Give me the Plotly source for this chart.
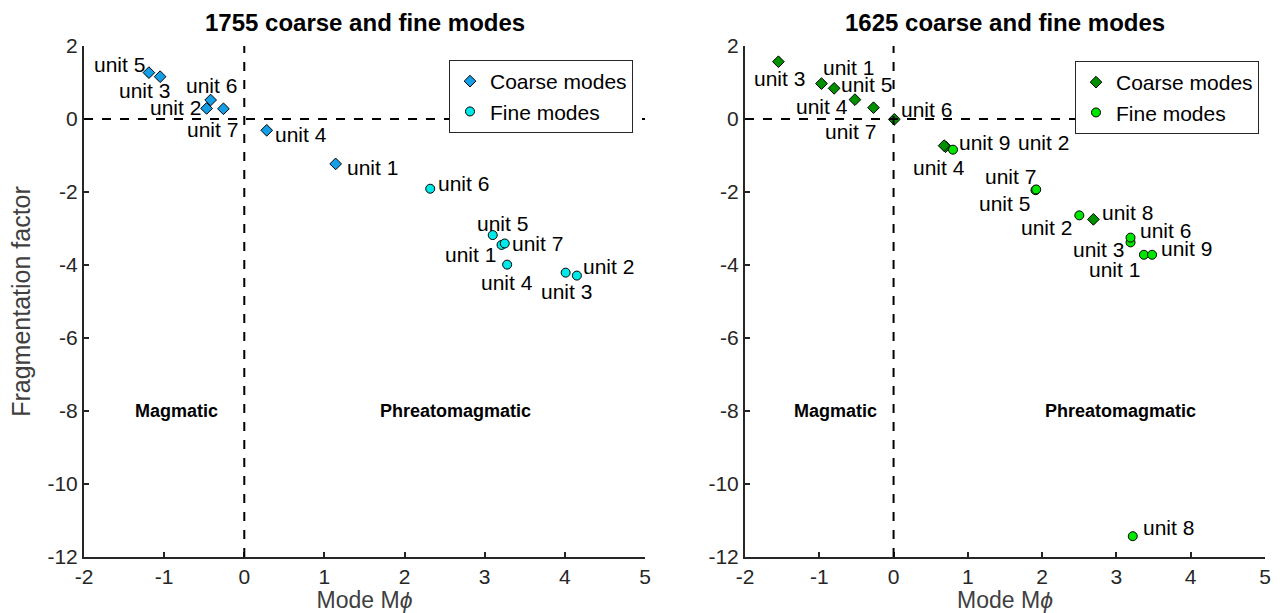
import plotly.graph_objects as go

# ---- data -------------------------------------------------------------
units_1755 = ["unit 1", "unit 2", "unit 3", "unit 4", "unit 5", "unit 6", "unit 7"]
coarse_1755_x = [1.14, -0.47, -1.05, 0.28, -1.19, -0.42, -0.26]
coarse_1755_y = [-1.23, 0.29, 1.16, -0.31, 1.27, 0.52, 0.28]
fine_1755_x = [3.21, 4.15, 4.01, 3.28, 3.10, 2.32, 3.25]
fine_1755_y = [-3.45, -4.29, -4.21, -3.99, -3.18, -1.91, -3.41]

units_1625 = ["unit 1", "unit 2", "unit 3", "unit 4", "unit 5",
              "unit 6", "unit 7", "unit 8", "unit 9"]
coarse_1625_x = [-0.97, 0.70, -1.55, -0.52, -0.80, 0.01, -0.27, 2.69, 0.68]
coarse_1625_y = [0.97, -0.76, 1.57, 0.53, 0.84, -0.01, 0.31, -2.75, -0.73]
fine_1625_x = [3.37, 2.50, 3.19, 0.80, 1.91, 3.19, 1.92, 3.22, 3.48]
fine_1625_y = [-3.72, -2.64, -3.38, -0.84, -1.95, -3.25, -1.93, -11.43, -3.72]

x_ticks = [-2, -1, 0, 1, 2, 3, 4, 5]
x_tick_text = ["-2", "-1", "0", "1", "2", "3", "4", "5"]
y_ticks = [-12, -10, -8, -6, -4, -2, 0, 2]
y_tick_text = ["-12", "-10", "-8", "-6", "-4", "-2", "0", "2"]

# ---- label placement (anchor side, pixel shift right, pixel shift down) ----
lab_coarse_1755 = [("left", 9, 4), ("right", -4, -1), ("right", 12, 14), ("left", 6, 4),
                   ("right", -2, -8), ("right", 28, -15), ("right", 17, 21)]
lab_fine_1755 = [("right", -4, 10), ("left", 4, -9), ("left", -27, 19), ("left", -28, 18),
                 ("left", -18, -12), ("left", 6, -5), ("left", 5, 0)]
lab_coarse_1625 = [("left", -1, -16), ("left", 70, -4), ("left", -26, 17), ("right", -5, 7),
                   ("left", 5, -4), ("left", 5, -10), ("right", 4, 24), ("left", 7, -7),
                   ("left", 13, -3)]
lab_fine_1625 = [("right", -2, 15), ("right", -5, 12), ("right", -5, 7), ("right", 14, 18),
                 ("right", -3, 13), ("left", 7, -7), ("right", 2, -13), ("left", 8, -9),
                 ("left", 7, -6)]

FONT = "Liberation Sans, Arial, Helvetica, sans-serif"
TXT = "#262626"
W, H = 1281, 613

fig = go.Figure()


def add_series(x, y, name, symbol, size, color, xa, ya):
    fig.add_trace(go.Scatter(
        x=x, y=y, mode="markers", name=name,
        marker=dict(symbol=symbol, size=size, color=color,
                    line=dict(color="black", width=1)),
        xaxis=xa, yaxis=ya, showlegend=True,
        legend="legend" if xa == "x" else "legend2",
    ))


add_series(coarse_1755_x, coarse_1755_y, "Coarse modes", "diamond", 9, "#149ee6", "x", "y")
add_series(fine_1755_x, fine_1755_y, "Fine modes", "circle", 9, "#00e8e8", "x", "y")
add_series(coarse_1625_x, coarse_1625_y, "Coarse modes", "diamond", 9, "#009000", "x2", "y2")
add_series(fine_1625_x, fine_1625_y, "Fine modes", "circle", 9, "#00e600", "x2", "y2")

annotations = []


def add_labels(units, xs, ys, places, xr, yr):
    for u, x, y, (side, dx, dy) in zip(units, xs, ys, places):
        annotations.append(dict(
            x=x, y=y, xref=xr, yref=yr, text=u, showarrow=False,
            xanchor=side, yanchor="middle", xshift=dx, yshift=-dy,
            font=dict(family=FONT, size=21, color="black"),
        ))


add_labels(units_1755, coarse_1755_x, coarse_1755_y, lab_coarse_1755, "x", "y")
add_labels(units_1755, fine_1755_x, fine_1755_y, lab_fine_1755, "x", "y")
add_labels(units_1625, coarse_1625_x, coarse_1625_y, lab_coarse_1625, "x2", "y2")
add_labels(units_1625, fine_1625_x, fine_1625_y, lab_fine_1625, "x2", "y2")

# regime labels
for xr, yr, mx, px in (("x", "y", -0.85, 2.63), ("x2", "y2", -0.78, 3.05)):
    for tx, xv in (("Magmatic", mx), ("Phreatomagmatic", px)):
        annotations.append(dict(
            x=xv, y=-8, xref=xr, yref=yr, text="<b>%s</b>" % tx, showarrow=False,
            xanchor="center", yanchor="middle",
            font=dict(family=FONT, size=18, color="black"),
        ))

# panel titles
dom1 = [84 / W, 645 / W]
dom2 = [745 / W, 1265 / W]
ydom = [1 - 557 / H, 1 - 46 / H]
for dom, t in ((dom1, "1755 coarse and fine modes"), (dom2, "1625 coarse and fine modes")):
    annotations.append(dict(
        x=(dom[0] + dom[1]) / 2, y=1 - 22 / H, xref="paper", yref="paper",
        text="<b>%s</b>" % t, showarrow=False, xanchor="center", yanchor="middle",
        font=dict(family=FONT, size=24, color="black"),
    ))

# dashed reference lines at x=0 and y=0
shapes = []
for xr, yr in (("x", "y"), ("x2", "y2")):
    shapes.append(dict(type="line", xref=xr, yref=yr, x0=0, x1=0, y0=-12, y1=2,
                       line=dict(color="black", width=2, dash="dash")))
    shapes.append(dict(type="line", xref=xr, yref=yr, x0=-2, x1=5, y0=0, y1=0,
                       line=dict(color="black", width=2, dash="dash")))

axis_common = dict(
    showline=True, linecolor=TXT, linewidth=2, mirror=False,
    ticks="inside", ticklen=5, tickwidth=2, tickcolor=TXT,
    showgrid=False, zeroline=False, automargin=False,
    tickfont=dict(family=FONT, size=21, color=TXT),
)
xtitle = dict(text="Mode M<i>ϕ</i>", font=dict(family=FONT, size=23, color="#404040"),
              standoff=2)

xaxis = dict(axis_common, domain=dom1, range=[-2, 5], tickvals=x_ticks,
             ticktext=x_tick_text, anchor="y", title=xtitle)
xaxis2 = dict(axis_common, domain=dom2, range=[-2, 5], tickvals=x_ticks,
              ticktext=x_tick_text, anchor="y2", title=xtitle)
yaxis = dict(axis_common, domain=ydom, range=[-12, 2], tickvals=y_ticks,
             ticktext=y_tick_text, anchor="x",
             title=dict(text="Fragmentation factor",
                        font=dict(family=FONT, size=25, color="#404040"), standoff=10))
yaxis2 = dict(axis_common, domain=ydom, range=[-12, 2], tickvals=y_ticks,
              ticktext=y_tick_text, anchor="x2")

legend_common = dict(
    bgcolor="white", bordercolor="#262626", borderwidth=1,
    font=dict(family=FONT, size=21, color="black"),
    xanchor="right", yanchor="top", tracegroupgap=0,
    itemwidth=30,
)

fig.update_layout(
    width=W, height=H,
    margin=dict(l=0, r=0, t=0, b=0),
    paper_bgcolor="white", plot_bgcolor="white",
    xaxis=xaxis, xaxis2=xaxis2, yaxis=yaxis, yaxis2=yaxis2,
    legend=dict(legend_common, x=633 / W, y=1 - 60 / H),
    legend2=dict(legend_common, x=1259 / W, y=1 - 61 / H),
    annotations=annotations, shapes=shapes,
)

fig.write_html("out.html")
